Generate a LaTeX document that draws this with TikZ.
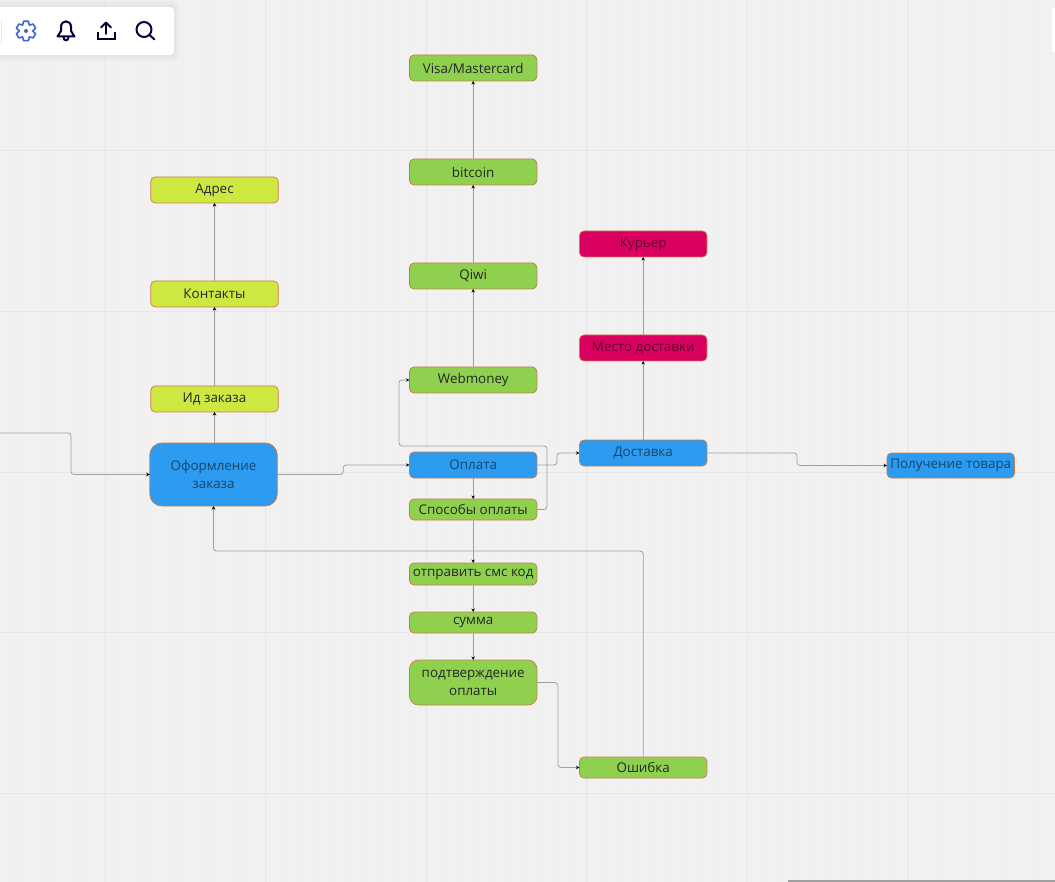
\documentclass[tikz,border=0pt]{standalone}
\usepackage{fontspec}
\setmainfont{Open Sans}
\usepackage{xcolor}
\usetikzlibrary{arrows.meta,positioning}

\definecolor{boardbg}{HTML}{F1F1F1}
\definecolor{gridline}{HTML}{E6E6E6}
\definecolor{gridminor}{HTML}{EFEFEF}
\definecolor{mainblue}{HTML}{2D9BF0}
\definecolor{paygreen}{HTML}{8FD14F}
\definecolor{infolime}{HTML}{CEE741}
\definecolor{delivred}{HTML}{D9005F}
\definecolor{edgeline}{HTML}{A0A0A0}
\definecolor{boxedge}{HTML}{CF7A4A}
\definecolor{iconink}{HTML}{050038}
\definecolor{iconblue}{HTML}{4262D9}

\begin{document}
\begin{tikzpicture}[x=1pt,y=-1pt,
box/.style={rectangle, rounded corners=4.5pt, draw=boxedge, line width=0.7pt, fill=#1, minimum width=127.5pt, minimum height=26pt, inner sep=0pt, outer sep=0pt, font=\fontsize{13.4}{18}\selectfont, align=center, text=black!85},
dimtext/.style={text=black!55!#1},
arrow/.style={-{Stealth[length=3.5pt,width=3.5pt,color=black]}, edgeline, line width=0.8pt, rounded corners=3pt},
icon/.style={line width=2pt, iconink, line cap=round, line join=round}
]
\useasboundingbox (0,0) rectangle (1055,882);
\fill[boardbg] (0,0) rectangle (1055,882);

% Grid
\foreach \i in {0,...,32} \draw[gridminor, line width=0.6pt] (9.4+32.1*\i,0) -- (9.4+32.1*\i,882);
\foreach \j in {0,...,27} \draw[gridminor, line width=0.6pt] (23+32.1*\j,0) -- (23+32.1*\j,882);
\foreach \xx in {105,265.5,426,586.5,747,907.5} \draw[gridline, line width=1pt] (\xx,0) -- (\xx,882);
\foreach \yy in {151,311.5,472,632.5,793} \draw[gridline, line width=1pt] (0,\yy) -- (1055,\yy);

% Centre
\node[box=mainblue, dimtext=mainblue, rounded corners=12pt, minimum height=63pt] (order) at (213.5,474.5) {Оформление\\заказа};

% Left column
\node[box=infolime, above=31pt of order, xshift=1pt] (orderid) {Ид заказа};
\node[box=infolime, above=79pt of orderid] (contacts) {Контакты};
\node[box=infolime, above=78pt of contacts] (address) {Адрес};

% Payment column
\node[box=mainblue, dimtext=mainblue, right=132.2pt of order, yshift=9.5pt] (payment) {Оплата};
\node[box=paygreen, minimum height=21pt, below=21pt of payment] (methods) {Способы оплаты};
\node[box=paygreen, minimum height=22pt, below=43pt of methods] (sms) {отправить смс код};
\node[box=paygreen, minimum height=21pt, below=27pt of sms] (amount) {сумма};
\node[box=paygreen, rounded corners=9pt, minimum height=45pt, below=27pt of amount] (confirm) {подтверждение\\оплаты};
\node[box=paygreen, above=59pt of payment] (webmoney) {Webmoney};
\node[box=paygreen, above=78pt of webmoney] (qiwi) {Qiwi};
\node[box=paygreen, above=78pt of qiwi] (bitcoin) {bitcoin};
\node[box=paygreen, above=78pt of bitcoin] (visa) {Visa/Mastercard};

% Delivery column
\node[box=mainblue, dimtext=mainblue, right=42.5pt of payment, yshift=12pt] (delivery) {Доставка};
\node[box=delivred, dimtext=delivred, above=79pt of delivery] (place) {Место доставки};
\node[box=delivred, dimtext=delivred, above=78pt of place] (courier) {Курьер};
\node[box=paygreen, minimum height=21pt, below=291pt of delivery] (failure) {Ошибка};
\node[box=mainblue, dimtext=mainblue, minimum height=25pt, right=180pt of delivery, yshift=-12.5pt] (receipt) {Получение товара};

% Arrows
\coordinate (entry) at (0,433);
\draw[arrow] (entry) -- (71,433) |- (order.west);
\draw[arrow] (order.east) -- ++(66,0) |- (payment.west);
\draw[arrow] (payment.east) -- ++(20,0) |- (delivery.west);
\draw[arrow] (delivery.east) -- ++(90,0) |- (receipt.west);
\draw[arrow] (order.north -| orderid) -- (orderid.south);
\draw[arrow] (orderid) -- (contacts);
\draw[arrow] (contacts) -- (address);
\draw[arrow] (payment) -- (methods);
\draw[arrow] (methods) -- (sms);
\draw[arrow] (sms) -- (amount);
\draw[arrow] (amount) -- (confirm);
\draw[arrow] (webmoney) -- (qiwi);
\draw[arrow] (qiwi) -- (bitcoin);
\draw[arrow] (bitcoin) -- (visa);
\draw[arrow] (delivery) -- (place);
\draw[arrow] (place) -- (courier);
\draw[arrow] (methods.east) -- ++(10,0) -- ++(0,-63.5) -- ++(-148,0) |- (webmoney.west);
\draw[arrow] (confirm.east) -- ++(21,0) |- (failure.west);
\draw[arrow] (failure.north) -- ++(0,-206) -| (order.south);

% Toolbar
\foreach \s/\o in {6/0.015,4/0.015,2/0.02}
  \fill[black, opacity=\o, rounded corners=5pt] (-20,7-\s) rectangle (174+\s,55+\s);
\fill[white, rounded corners=4pt] (-20,7) rectangle (174,55);
\draw[gridline, line width=1pt] (1,20) -- (1,43);
\fill[white] (1052,8) rectangle (1055,52);
\fill[edgeline] (788,880) rectangle (1055,882);

% Icons
\begin{scope}[shift={(26,31)}]
\draw[iconblue, line width=1.6pt, line join=round]
  (16:10) \foreach \a in {30,90,...,330} { -- (\a-14:10) -- (\a+14:10) -- (\a+30:6.8) } -- cycle;
\fill[iconblue] (0,0) circle (2pt);
\end{scope}
\draw[icon] (57.5,36.5) -- (74.5,36.5) -- (71,31) -- (71,27) .. controls (71,19.5) and (61,19.5) .. (61,27) -- (61,31) -- cycle;
\draw[icon] (63.5,37) .. controls (63.5,41.5) and (68.5,41.5) .. (68.5,37);
\draw[icon, line cap=butt, line join=miter] (97.5,32) -- (97.5,39) -- (114.5,39) -- (114.5,32);
\draw[icon] (106,34) -- (106,23);
\draw[icon] (101,27.5) -- (106,22.5) -- (111,27.5);
\draw[icon] (144,29.5) circle (7.5pt);
\draw[icon] (149.5,35) -- (154.5,39.5);
\end{tikzpicture}
\end{document}
